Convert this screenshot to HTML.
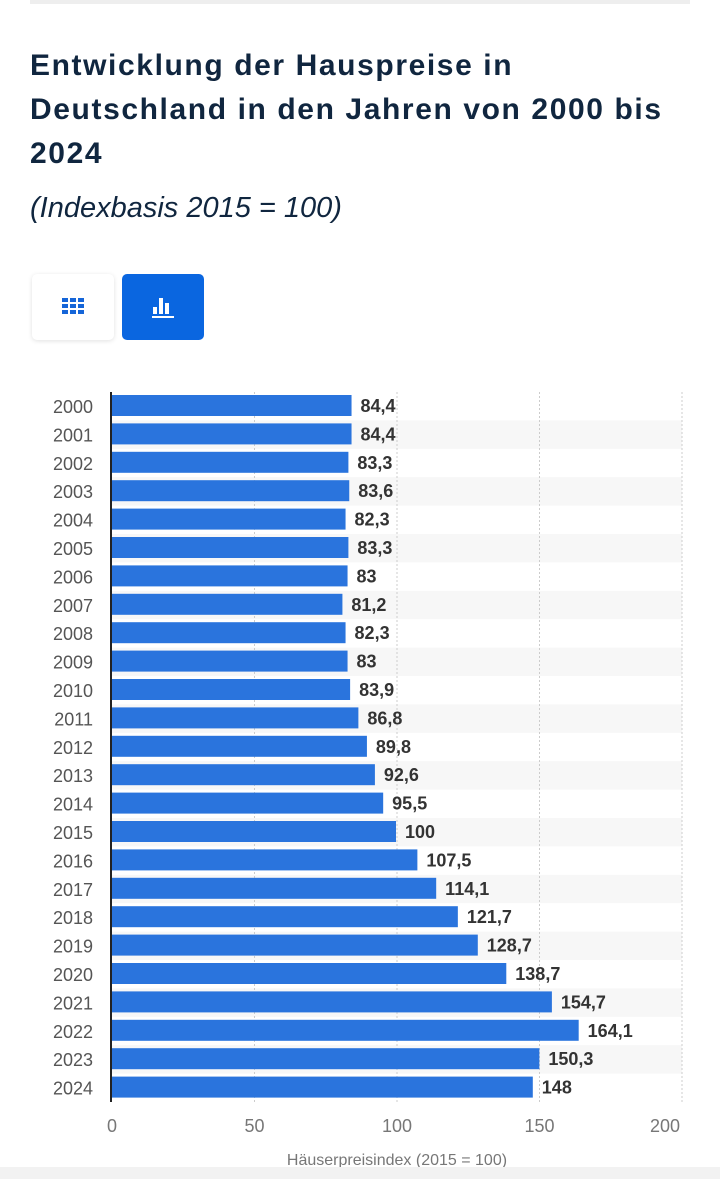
<!DOCTYPE html>
<html><head><meta charset="utf-8">
<style>
body{margin:0;width:720px;height:1179px;background:#fff;font-family:"Liberation Sans",sans-serif;position:relative;overflow:hidden}
h1{position:absolute;left:30px;top:44px;margin:0;font-size:30px;line-height:44px;color:#10263f;font-weight:bold;width:690px;white-space:nowrap;letter-spacing:1.6px}
.sub{position:absolute;left:30px;top:192px;font-size:29px;font-style:italic;color:#10263f}
.btn{position:absolute;top:274px;width:82px;height:66px;border-radius:5px}
#footer{position:absolute;left:0;top:1167px;width:720px;height:12px;background:#f2f2f2}
</style></head><body>
<div style="position:absolute;left:30px;top:0;width:660px;height:4px;background:#eee"></div>
<h1>Entwicklung der Hauspreise in<br>Deutschland in den Jahren von 2000 bis<br>2024</h1>
<div class="sub">(Indexbasis 2015 = 100)</div>
<div class="btn" style="left:32px;background:#fff;box-shadow:0 1px 5px rgba(0,0,0,.12)">
<svg width="82" height="66"><g fill="#1565d8"><rect x="30" y="24" width="6" height="4"/><rect x="38" y="24" width="6" height="4"/><rect x="46" y="24" width="6" height="4"/><rect x="30" y="30" width="6" height="4"/><rect x="38" y="30" width="6" height="4"/><rect x="46" y="30" width="6" height="4"/><rect x="30" y="36" width="6" height="4"/><rect x="38" y="36" width="6" height="4"/><rect x="46" y="36" width="6" height="4"/></g></svg></div>
<div class="btn" style="left:122px;background:#0a66e0">
<svg width="82" height="66"><g fill="#fff"><rect x="31" y="33" width="4" height="7"/><rect x="37" y="24" width="4" height="16"/><rect x="43" y="29" width="4" height="11"/><rect x="30" y="42" width="22" height="2"/></g></svg></div>
<svg id="chart" width="720" height="1179" style="position:absolute;left:0;top:0"></svg>
<div id="footer"></div>
<script>
const years=["2000","2001","2002","2003","2004","2005","2006","2007","2008","2009","2010","2011","2012","2013","2014","2015","2016","2017","2018","2019","2020","2021","2022","2023","2024"];
const values=[84.4,84.4,83.3,83.6,82.3,83.3,83,81.2,82.3,83,83.9,86.8,89.8,92.6,95.5,100,107.5,114.1,121.7,128.7,138.7,154.7,164.1,150.3,148];
const ticks=[0,50,100,150,200];
const NS="http://www.w3.org/2000/svg";
const svg=document.getElementById('chart');
const x0=112,x1=682,top0=392,rowH=28.4;
const xs=v=>x0+(v-ticks[0])/(ticks[ticks.length-1]-ticks[0])*(x1-x0);
const ys=i=>top0+i*rowH;
function mk(t,a){const e=document.createElementNS(NS,t);for(const k in a)e.setAttribute(k,a[k]);svg.appendChild(e);return e;}
const fmt=v=>String(v).replace('.',',');
years.forEach((y,i)=>{if(i%2===1){const r=mk('rect',{x:x0,y:ys(i),width:x1-x0,height:rowH,fill:'#f7f7f7'});

}});
ticks.forEach(t=>{if(t===0)return;const l=mk('line',{x1:xs(t),x2:xs(t),y1:top0,y2:top0+rowH*years.length,stroke:'#ccc','stroke-dasharray':'2,2'});

});
years.forEach((y,i)=>{
const b=mk('rect',{x:x0,y:ys(i)+3,width:xs(values[i])-x0-1,height:21,fill:'#2a74dd'});


const yl=mk('text',{x:93,y:ys(i)+21,'text-anchor':'end','font-size':'18',fill:'#555'});yl.textContent=y;


const vl=mk('text',{x:xs(values[i])+8,y:ys(i)+20,'font-size':'18','font-weight':'bold',fill:'#333'});vl.textContent=fmt(values[i]);


});
const ax=mk('line',{x1:x0-1,x2:x0-1,y1:top0,y2:top0+rowH*years.length,stroke:'#222','stroke-width':2});


ticks.forEach((t,i)=>{const tx=mk('text',{x:i===ticks.length-1?xs(t)-17:xs(t),y:1132,'text-anchor':'middle','font-size':'18',fill:'#777'});tx.textContent=t;

});
const xt=mk('text',{x:397,y:1165,'text-anchor':'middle','font-size':'16',fill:'#777'});xt.textContent='Häuserpreisindex (2015 = 100)';


</script>
</body></html>
